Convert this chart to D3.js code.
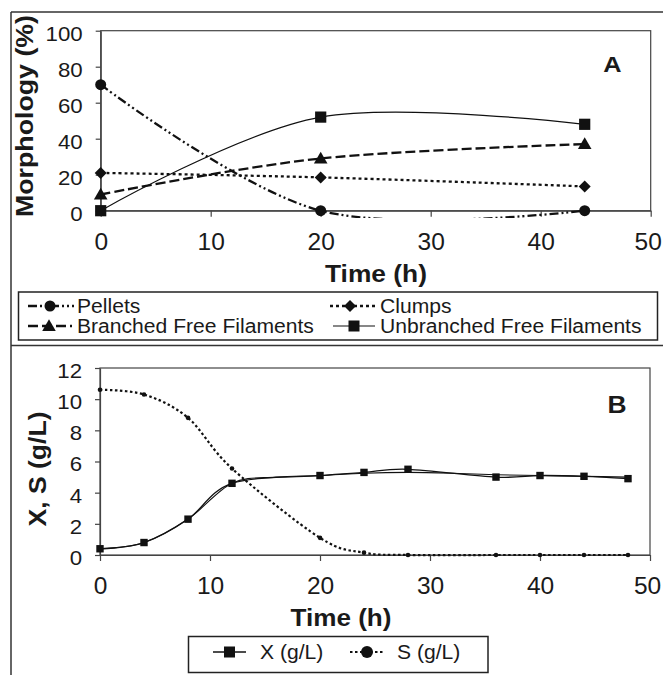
<!DOCTYPE html>
<html>
<head>
<meta charset="utf-8">
<script src="https://cdn.jsdelivr.net/npm/d3@7"></script>
<style>
  html, body { margin: 0; padding: 0; background: #fff; }
  svg { display: block; }
  text { font-family: "Liberation Sans", Arial, Helvetica, sans-serif; fill: #1a1a1a; }
</style>
</head>
<body>
<div id="chart"></div>
<script>
// ---------------- DATA ----------------
// Panel A: morphology (%) vs time (h)
const timeA = [0, 20, 44];
const pellets = [70, 0, 0];
const clumps = [21, 18.5, 13.5];
const branched = [9, 29, 37];
const unbranched = [0, 52, 48];
const seriesNamesA = ["Pellets", "Clumps", "Branched Free Filaments", "Unbranched Free Filaments"];

// Panel B: biomass X and substrate S (g/L) vs time (h)
const timeB = [0, 4, 8, 12, 20, 24, 28, 36, 40, 44, 48];
const xData = [0.4, 0.8, 2.3, 4.6, 5.1, 5.3, 5.5, 5.0, 5.1, 5.05, 4.9];
const sData = [10.6, 10.3, 8.8, 5.55, 1.1, 0.15, 0, 0, 0, 0, 0];
// second (fitted) X curve, drawn without markers
const timeFit = [0, 4, 8, 12, 16, 20, 24, 28, 32, 36, 40, 44, 48];
const xFit = [0.4, 0.8, 2.3, 4.6, 5.0, 5.1, 5.25, 5.3, 5.25, 5.15, 5.1, 5.05, 5.0];
const seriesNamesB = ["X (g/L)", "S (g/L)"];

const xTicks = [0, 10, 20, 30, 40, 50];
const yTicksA = [0, 20, 40, 60, 80, 100];
const yTicksB = [0, 2, 4, 6, 8, 10, 12];

// ---------------- DRAW ----------------
const W = 663, H = 675;
const INK = "#111";
const svg = d3.select("#chart").append("svg").attr("width", W).attr("height", H);

// outer frames
const frame = svg.append("g").attr("stroke", "#333").attr("stroke-width", 1.5);
frame.append("line").attr("x1", 11).attr("y1", 12).attr("x2", W).attr("y2", 12);
frame.append("line").attr("x1", 11).attr("y1", 12).attr("x2", 11).attr("y2", H);
frame.append("line").attr("x1", 11).attr("y1", 345.5).attr("x2", W).attr("y2", 345.5);

function stretch(sel, f) {
  sel.each(function () {
    const L = this.getComputedTextLength();
    d3.select(this).attr("textLength", L * f).attr("lengthAdjust", "spacingAndGlyphs");
  });
}

const smooth = (x, y) => d3.line().x(d => x(d[0])).y(d => y(d[1])).curve(d3.curveCardinal.tension(0));

function drawAxes(g, x, y, yTicks) {
  const [x0, x1] = x.range();
  const [yb, yt] = y.range();
  g.append("rect").attr("x", x0).attr("y", yt).attr("width", x1 - x0).attr("height", yb - yt)
    .attr("fill", "none").attr("stroke", "#444").attr("stroke-width", 1.2);
  const ax = g.append("g").attr("transform", `translate(0,${yb})`)
    .call(d3.axisBottom(x).tickValues(xTicks).tickSize(6).tickSizeOuter(0).tickPadding(16));
  ax.select(".domain").attr("stroke", "#444").attr("stroke-width", 1.2);
  ax.selectAll(".tick line").attr("stroke", "#444").attr("stroke-width", 1.2);
  ax.selectAll("text").attr("font-size", 24.5).attr("fill", "#1a1a1a").attr("font-family", "Liberation Sans, Arial, sans-serif");
  ax.selectAll(".tick text").filter(d => d === 50).attr("dx", -3);
  const ay = g.append("g").attr("transform", `translate(${x0},0)`)
    .call(d3.axisLeft(y).tickValues(yTicks).tickSize(5).tickSizeOuter(0).tickPadding(13));
  ay.select(".domain").attr("stroke", "#444").attr("stroke-width", 1.2);
  ay.selectAll(".tick line").attr("stroke", "#444").attr("stroke-width", 1.2);
  ay.selectAll("text").attr("font-size", 21).attr("dy", "0.45em").attr("fill", "#1a1a1a").attr("font-family", "Liberation Sans, Arial, sans-serif");
  stretch(ay.selectAll("text"), 1.06);
}

const diamondPath = (s) => `M0,${-s}L${s},0L0,${s}L${-s},0Z`;

// ---------- Panel A ----------
const xA = d3.scaleLinear().domain([0, 50]).range([100.7, 650.7]);
const yA = d3.scaleLinear().domain([0, 100]).range([210.7, 30.7]);
const gA = svg.append("g");
drawAxes(gA, xA, yA, yTicksA);

svg.append("defs").append("clipPath").attr("id", "clipA").append("rect")
  .attr("x", xA(0) - 8).attr("y", yA(100)).attr("width", xA(50) - xA(0) + 8).attr("height", yA(0) - yA(100) + 7.3);

const styleA = {
  "Pellets":   { values: pellets,    dash: "9,3,2,3,2,3", width: 2.3, sym: "circle" },
  "Clumps":    { values: clumps,     dash: "3,3",     width: 2.3, sym: "diamond" },
  "Branched Free Filaments":   { values: branched,   dash: "10,4", width: 2.3, sym: "triangle" },
  "Unbranched Free Filaments": { values: unbranched, dash: null,   width: 1.2, sym: "square" }
};

function marker(g, sym, cx, cy, big) {
  if (sym === "circle") g.append("circle").attr("cx", cx).attr("cy", cy).attr("r", big).attr("fill", INK);
  else if (sym === "square") g.append("rect").attr("x", cx - big).attr("y", cy - big).attr("width", 2 * big).attr("height", 2 * big).attr("fill", INK);
  else if (sym === "diamond") g.append("path").attr("d", diamondPath(big + 0.5)).attr("transform", `translate(${cx},${cy})`).attr("fill", INK);
  else if (sym === "triangle") g.append("path").attr("d", d3.symbol(d3.symbolTriangle, 80)()).attr("transform", `translate(${cx},${cy + 1})`).attr("fill", INK);
}

const linesA = gA.append("g").attr("clip-path", "url(#clipA)");
seriesNamesA.forEach(name => {
  const s = styleA[name];
  const pts = timeA.map((t, i) => [t, s.values[i]]);
  linesA.append("path").attr("d", smooth(xA, yA)(pts)).attr("fill", "none").attr("stroke", INK)
    .attr("stroke-width", s.width).attr("stroke-dasharray", s.dash);
});
seriesNamesA.forEach(name => {
  const s = styleA[name];
  timeA.forEach((t, i) => marker(gA, s.sym, xA(t), yA(s.values[i]), s.sym === "square" ? 5.6 : 5.5));
});

gA.append("text").attr("x", 612.5).attr("y", 72).attr("text-anchor", "middle")
  .attr("font-size", 22).attr("font-weight", "bold").text("A").call(stretch, 1.15);
gA.append("text").attr("x", 376).attr("y", 282).attr("text-anchor", "middle")
  .attr("font-size", 24).attr("font-weight", "bold").attr("textLength", 102).attr("lengthAdjust", "spacingAndGlyphs").text("Time (h)");
gA.append("text").attr("transform", "translate(33,116) rotate(-90)").attr("text-anchor", "middle")
  .attr("font-size", 24).attr("font-weight", "bold").attr("textLength", 202).attr("lengthAdjust", "spacingAndGlyphs").text("Morphology (%)");

// Legend A
const legA = svg.append("g");
legA.append("rect").attr("x", 18.5).attr("y", 292).attr("width", 639).attr("height", 48)
  .attr("fill", "none").attr("stroke", "#222").attr("stroke-width", 1.5);
const legPosA = [
  { name: "Pellets", x0: 28, x1: 74, mx: 50, tx: 77, y: 313 },
  { name: "Clumps", x0: 330, x1: 375, mx: 350, tx: 380, y: 313 },
  { name: "Branched Free Filaments", x0: 28, x1: 72, mx: 49, tx: 77, y: 333 },
  { name: "Unbranched Free Filaments", x0: 333, x1: 375, mx: 354, tx: 380, y: 333 }
];
legPosA.forEach(p => {
  const s = styleA[p.name];
  const cy = p.y - 7;
  legA.append("line").attr("x1", p.x0).attr("x2", p.x1).attr("y1", cy).attr("y2", cy)
    .attr("stroke", INK).attr("stroke-width", s.width).attr("stroke-dasharray", s.dash);
  marker(legA, s.sym, p.mx, cy, 5.5);
  legA.append("text").attr("x", p.tx).attr("y", p.y).attr("font-size", 20).text(p.name).call(stretch, 1.055);
});

// ---------- Panel B ----------
const xB = d3.scaleLinear().domain([0, 50]).range([100, 650]);
const yB = d3.scaleLinear().domain([0, 12]).range([555, 368]);
const gB = svg.append("g");
drawAxes(gB, xB, yB, yTicksB);

svg.select("defs").append("clipPath").attr("id", "clipB").append("rect")
  .attr("x", xB(0) - 8).attr("y", yB(12)).attr("width", xB(50) - xB(0) + 8).attr("height", yB(0) - yB(12) + 2);

const linesB = gB.append("g").attr("clip-path", "url(#clipB)");
linesB.append("path").attr("d", smooth(xB, yB)(timeFit.map((t, i) => [t, xFit[i]])))
  .attr("fill", "none").attr("stroke", INK).attr("stroke-width", 1.1);
linesB.append("path").attr("d", smooth(xB, yB)(timeB.map((t, i) => [t, xData[i]])))
  .attr("fill", "none").attr("stroke", INK).attr("stroke-width", 1.3);
linesB.append("path").attr("d", smooth(xB, yB)(timeB.map((t, i) => [t, sData[i]])))
  .attr("fill", "none").attr("stroke", INK).attr("stroke-width", 2.2).attr("stroke-dasharray", "2.5,2.5");

timeB.forEach((t, i) => {
  gB.append("rect").attr("x", xB(t) - 3.7).attr("y", yB(xData[i]) - 3.7).attr("width", 7.4).attr("height", 7.4).attr("fill", INK);
  gB.append("circle").attr("cx", xB(t)).attr("cy", yB(sData[i])).attr("r", 2.3).attr("fill", INK);
});

gB.append("text").attr("x", 617).attr("y", 413).attr("text-anchor", "middle")
  .attr("font-size", 24).attr("font-weight", "bold").text("B").call(stretch, 1.1);
gB.append("text").attr("x", 341).attr("y", 626).attr("text-anchor", "middle")
  .attr("font-size", 24).attr("font-weight", "bold").attr("textLength", 101).attr("lengthAdjust", "spacingAndGlyphs").text("Time (h)");
gB.append("text").attr("transform", "translate(45.5,469) rotate(-90)").attr("text-anchor", "middle")
  .attr("font-size", 24).attr("font-weight", "bold").attr("textLength", 115).attr("lengthAdjust", "spacingAndGlyphs").text("X, S (g/L)");

// Legend B
const legB = svg.append("g");
legB.append("rect").attr("x", 188.5).attr("y", 636.5).attr("width", 299.5).attr("height", 36)
  .attr("fill", "none").attr("stroke", "#222").attr("stroke-width", 1.5);
const cyB = 652;
legB.append("line").attr("x1", 213).attr("x2", 246).attr("y1", cyB).attr("y2", cyB).attr("stroke", INK).attr("stroke-width", 1.3);
legB.append("rect").attr("x", 224).attr("y", cyB - 5.5).attr("width", 11).attr("height", 11).attr("fill", INK);
legB.append("text").attr("x", 260).attr("y", 658.5).attr("font-size", 20).text(seriesNamesB[0]).call(stretch, 1.055);
legB.append("line").attr("x1", 350).attr("x2", 385).attr("y1", cyB).attr("y2", cyB).attr("stroke", INK).attr("stroke-width", 2.2).attr("stroke-dasharray", "2.5,2.5");
legB.append("circle").attr("cx", 367).attr("cy", cyB).attr("r", 6).attr("fill", INK);
legB.append("text").attr("x", 397).attr("y", 658.5).attr("font-size", 20).text(seriesNamesB[1]).call(stretch, 1.055);
</script>
</body>
</html>
